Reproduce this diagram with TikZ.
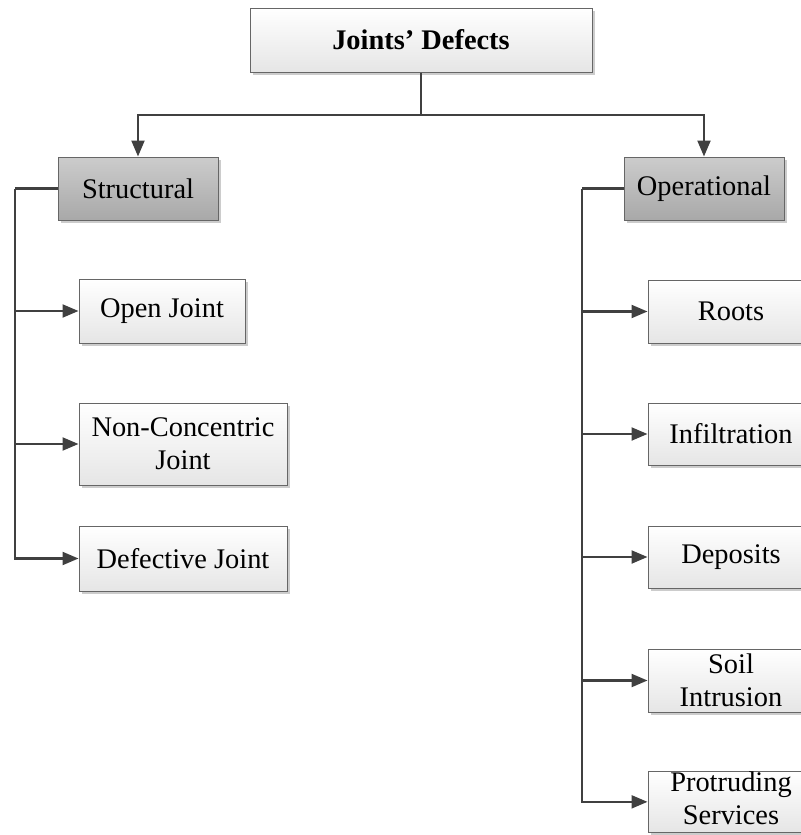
\documentclass[tikz,border=0pt]{standalone}
\usepackage{fontspec}
\setmainfont{Liberation Serif}
\usetikzlibrary{arrows.meta,shadows}
\begin{document}
\begin{tikzpicture}[x=.5pt,y=-.5pt,font=\fontsize{14.2pt}{16.5pt}\selectfont,box/.style={draw=black!60,line width=.5pt,top color=white,bottom color=black!10,inner sep=0pt,align=center,drop shadow={shadow xshift=1.5pt,shadow yshift=-1.5pt,fill=black!22,opacity=.9}},groupbox/.style={box,top color=black!20,bottom color=black!34},link/.style={draw=black!75,line width=1.1pt},arr/.style={link,-{Triangle[length=8pt,width=6.5pt]}}]
\clip (0,0) rectangle (801,835);
\node[box,minimum width=171pt,minimum height=32pt] (defects) at (421,40) {\textbf{Joints’ Defects}};
\node[groupbox,minimum width=80pt,minimum height=31.5pt] (structural) at (138,188.5) {Structural};
\node[groupbox,minimum width=80pt,minimum height=31.5pt] (operational) at (704,188.5) {Operational};
\node[box,minimum width=83pt,minimum height=32pt] (openjoint) at (162,311) {Open Joint};
\node[box,minimum width=104pt,minimum height=41pt] (nonconc) at (183,444) {Non-Concentric\\Joint};
\node[box,minimum width=104pt,minimum height=32.5pt] (defjoint) at (183,558.5) {Defective Joint};
\node[box,minimum width=83pt,minimum height=31.5pt] (roots) at (731,311.5) {Roots};
\node[box,minimum width=83pt,minimum height=31pt] (infil) at (731,434) {Infiltration};
\node[box,minimum width=83pt,minimum height=31pt] (deposits) at (731,557) {Deposits};
\node[box,minimum width=83pt,minimum height=31.5pt] (soil) at (731,680.5) {Soil\\Intrusion};
\node[box,minimum width=83pt,anchor=north,text depth=4pt] (protruding) at (731,771) {Protruding\\Services};
\coordinate (split) at (421,115);
\coordinate (lefttrunk) at (15,188.5);
\coordinate (righttrunk) at (582,188.5);
\draw[link] (defects.south)--(split);
\draw[arr] (split)-|(structural.north);
\draw[arr] (split)-|(operational.north);
\draw[link] (structural.west)--(lefttrunk);
\draw[arr] (lefttrunk)|-(defjoint.west);
\draw[arr] (lefttrunk|-openjoint.west)--(openjoint.west);
\draw[arr] (lefttrunk|-nonconc.west)--(nonconc.west);
\draw[link] (operational.west)--(righttrunk);
\draw[arr] (righttrunk)|-(protruding.west);
\draw[arr] (righttrunk|-roots.west)--(roots.west);
\draw[arr] (righttrunk|-infil.west)--(infil.west);
\draw[arr] (righttrunk|-deposits.west)--(deposits.west);
\draw[arr] (righttrunk|-soil.west)--(soil.west);
\end{tikzpicture}
\end{document}
